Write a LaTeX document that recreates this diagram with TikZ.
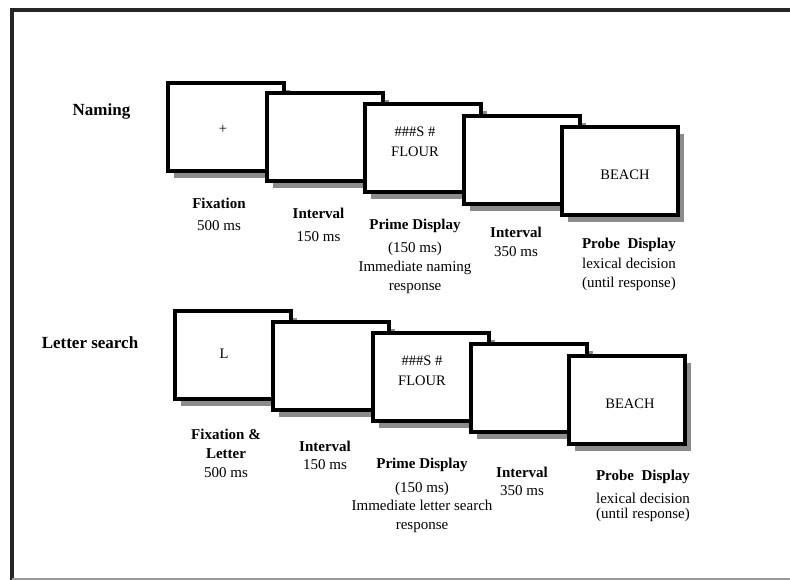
\documentclass[tikz,border=0pt]{standalone}
\usepackage{fontspec}
\setmainfont{Liberation Serif}
\usetikzlibrary{shadows}
\tikzset{
  frame/.style={line width=3.5pt,black!85},
  framebot/.style={line width=1.5pt,black!40},
  screen/.style={draw=black,line width=4pt,fill=white,minimum width=116pt,
    minimum height=88pt,inner sep=0pt,
    general shadow={fill=black!45,shadow xshift=6pt,shadow yshift=-7pt}},
  stim/.style={font=\fontsize{14.5}{20}\selectfont,inner sep=0pt,align=center},
  rowtitle/.style={font=\fontsize{17}{20}\selectfont\bfseries,inner sep=0pt,
    anchor=base},
  steplbl/.style={font=\fontsize{15}{19}\selectfont,inner sep=0pt,
    align=center,anchor=north},
}
\begin{document}
\begin{tikzpicture}[x=1pt,y=-1pt]
  \useasboundingbox (0,0) rectangle (790,580);
  \draw[frame] (790,10) -- (12,10) -- (12,580);
  \draw[framebot] (12,579) -- (790,579);
  % naming row
  \node[rowtitle] (naming) at (101.5,116) {Naming};
  \node[screen] (n1) at (225.5,127.5) {};
  \node[stim,anchor=base] (nplus) at (223,134) {+};
  \node[screen] (n2) at (324.5,137.5) {};
  \node[screen] (n3) at (423,148) {};
  \node[stim,anchor=north] (nprime) at (415,127.2) {\#\#\#S \#\\FLOUR};
  \node[screen] (n4) at (522,160) {};
  \node[screen] (n5) at (620,171.5) {};
  \node[stim,anchor=base] (nbeach) at (625,180) {BEACH};
  \node[steplbl] (nfixlab) at (219,197.7) {\textbf{Fixation}\\[3pt]500 ms};
  \node[steplbl] (nint1lab) at (318.5,207.7) {\textbf{Interval}\\[4pt]150 ms};
  \node[steplbl] (nprimelab) at (415,218.7)
    {\textbf{Prime Display}\\[4pt](150 ms)\\Immediate naming\\response};
  \node[steplbl] (nint2lab) at (516,226.7) {\textbf{Interval}\\350 ms};
  \node[steplbl] (nprobelab) at (629,237.7)
    {\textbf{Probe\enspace Display}\\[1pt]lexical decision\\(until response)};
  % letter search row
  \node[rowtitle] (search) at (90,348) {Letter search};
  \node[screen] (l1) at (232.5,354.5) {};
  \node[stim,anchor=base] (lletter) at (224,358) {L};
  \node[screen] (l2) at (330.5,365.5) {};
  \node[screen] (l3) at (430.5,376.5) {};
  \node[stim,anchor=north] (lprime) at (422,355.2) {\#\#\#S \#\\FLOUR};
  \node[screen] (l4) at (529,388) {};
  \node[screen] (l5) at (626.5,399.5) {};
  \node[stim,anchor=base] (lbeach) at (630,408) {BEACH};
  \node[steplbl] (lfixlab) at (226,428.7)
    {\textbf{Fixation \&}\\\textbf{Letter}\\500 ms};
  \node[steplbl] (lint1lab) at (325,440.7) {\textbf{Interval}\\[-1pt]150 ms};
  \node[steplbl] (lprimelab) at (422,457.7)
    {\textbf{Prime Display}\\[5pt](150 ms)\\[-1pt]Immediate letter search\\response};
  \node[steplbl] (lint2lab) at (522,466.7) {\textbf{Interval}\\[-1pt]350 ms};
  \node[steplbl] (lprobelab) at (643,469.7)
    {\textbf{Probe\enspace Display}\\[4pt]lexical decision\\[-4pt](until response)};
\end{tikzpicture}
\end{document}
